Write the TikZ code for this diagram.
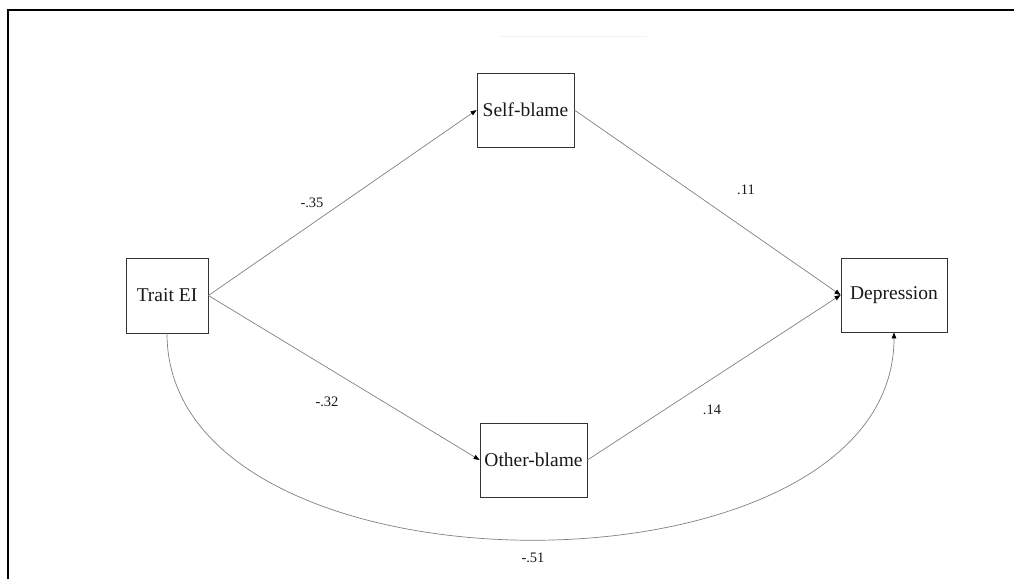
\documentclass[tikz,border=0pt]{standalone}
\usepackage{fontspec}
\setmainfont{Liberation Serif}
\usetikzlibrary{arrows.meta}
\begin{document}
\begin{tikzpicture}[x=1pt,y=-1pt,
  box/.style={draw=black!80, line width=0.8pt, inner sep=0pt, fill=white,
    font=\fontsize{19.5}{22}\selectfont, text=black!90},
  conn/.style={draw=black!50, line width=0.7pt,
    -{Triangle[length=6pt,width=4.5pt,color=black]}},
  lab/.style={font=\fontsize{14.5}{17}\selectfont, text=black!90, inner sep=0pt}]
\useasboundingbox (0,0) rectangle (1014,579);
% frame
\coordinate (ftl) at (7.5,10);
\coordinate (ftr) at (1014,10);
\coordinate (fbl) at (7.5,579);
\draw[line width=2pt, black] (fbl) -- (ftl) -- (ftr);
% faint artefact line
\coordinate (fa) at (500,36);
\coordinate (fb) at (647,36);
\draw[black!5, line width=1pt] (fa) -- (fb);
% boxes
\node[box, minimum width=82pt, minimum height=75pt] (trait) at (167,295.5) {Trait EI};
\node[box, minimum width=97pt, minimum height=74pt] (self) at (525.5,110) {Self-blame};
\node[box, minimum width=107pt, minimum height=74pt] (other) at (533.5,460) {Other-blame};
\node[box, minimum width=106pt, minimum height=74pt] (dep) at (894,295) {Depression};
% connectors
\draw[conn] (trait.east) -- (self.west);
\draw[conn] (trait.east) -- (other.west);
\draw[conn] (self.east) -- (dep.west);
\draw[conn] (other.east) -- (dep.west);
\draw[conn] (trait.south) .. controls ([yshift=-275pt]trait.south) and ([yshift=-276pt]dep.south) .. (dep.south);
% labels
\node[lab] (l1) at (312,203) {-.35};
\node[lab] (l2) at (327,402) {-.32};
\node[lab] (l3) at (746,190) {.11};
\node[lab] (l4) at (712,410) {.14};
\node[lab] (l5) at (533,558) {-.51};
\end{tikzpicture}
\end{document}
